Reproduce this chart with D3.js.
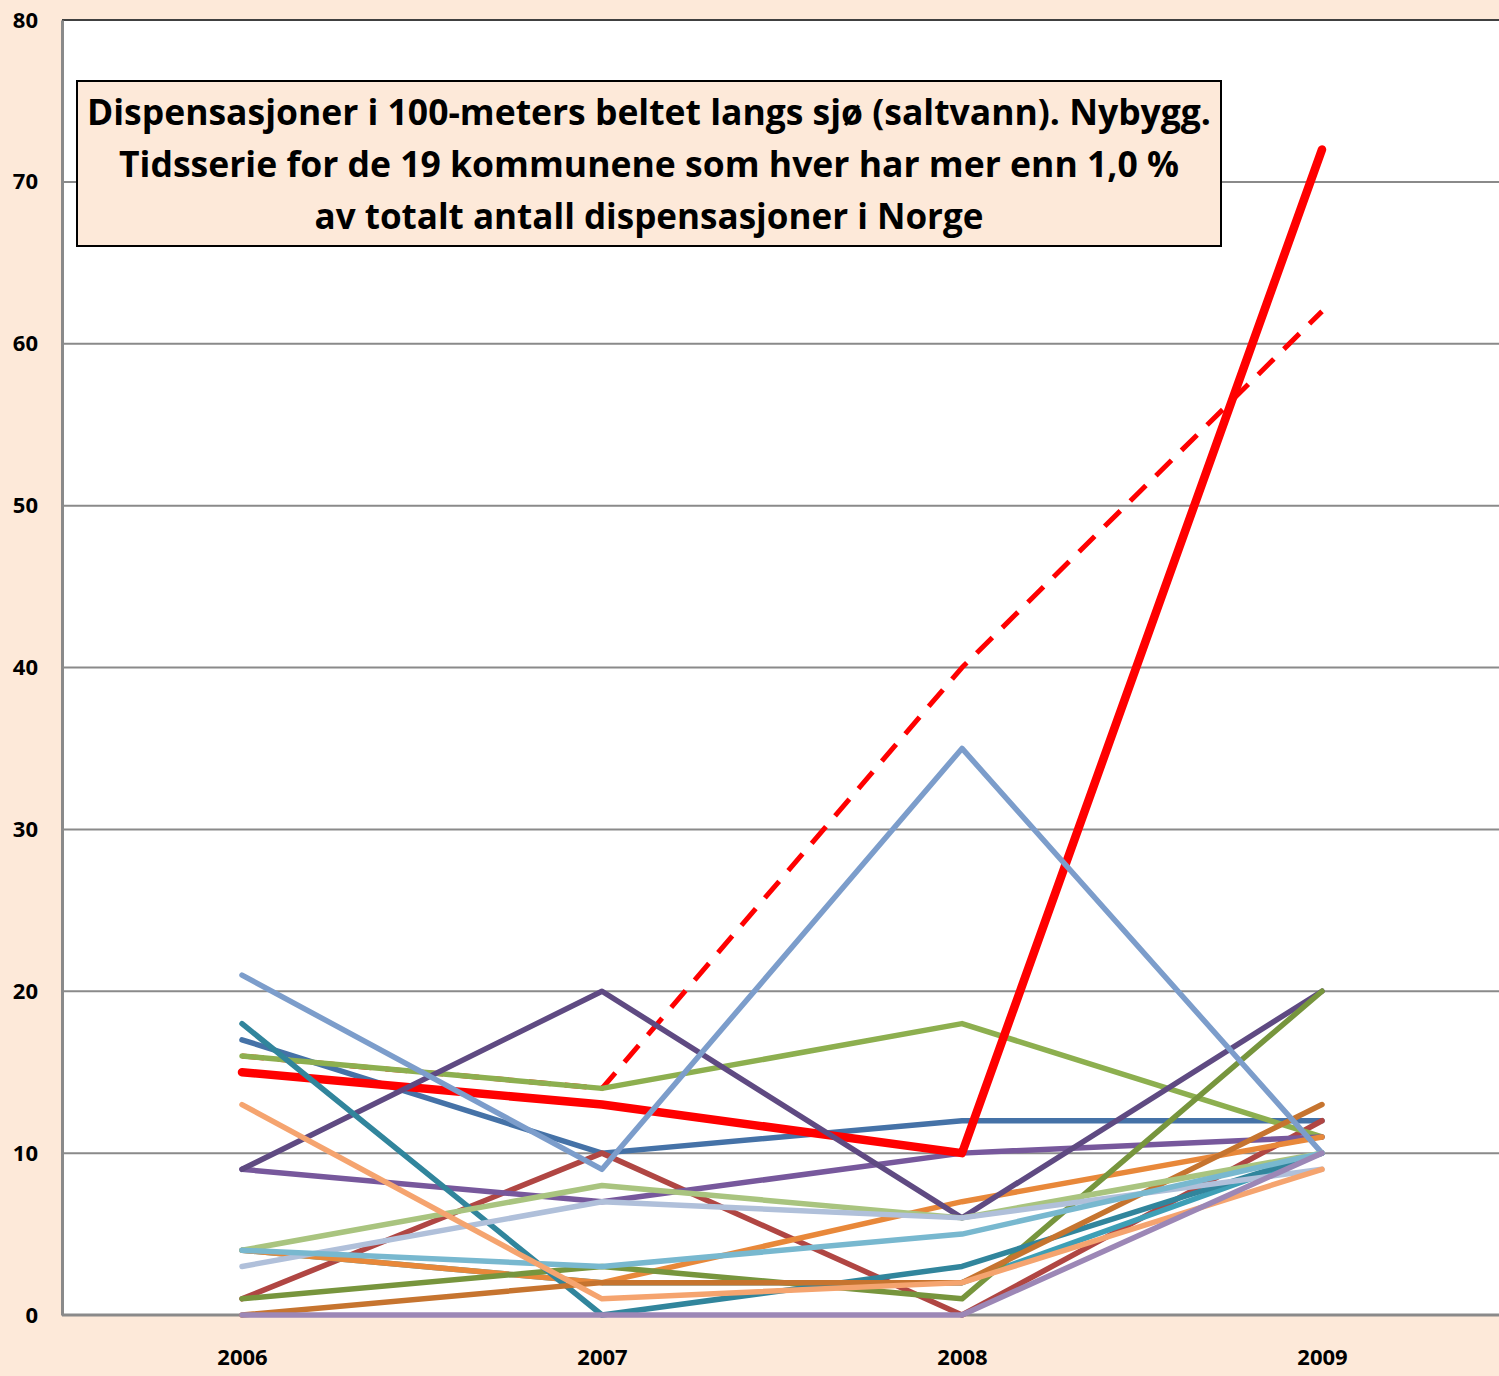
<!DOCTYPE html>
<html>
<head>
<meta charset="utf-8">
<script src="https://cdn.jsdelivr.net/npm/d3@7"></script>
<style>
  body { margin: 0; background: #fde9d9; }
  svg { display: block; }
  text { font-family: "Open Sans", sans-serif; font-weight: bold; }
</style>
</head>
<body>
<svg id="chart" width="1499" height="1376"></svg>
<script>
// categories and ticks
var years = ['2006', '2007', '2008', '2009'],
    yTicks = [0, 10, 20, 30, 40, 50, 60, 70, 80],
    titleLines = [
      'Dispensasjoner i 100-meters beltet langs sjø (saltvann). Nybygg.',
      'Tidsserie for de 19 kommunene som hver har mer enn 1,0 %',
      'av totalt antall dispensasjoner i Norge'
    ];

// series values, one per kommune
var sBlue       = [17, 10, 12, 12],
    sRedBrown   = [1, 10, 0, 12],
    sGreen      = [16, 14, 18, 11],
    sPurple     = [9, 7, 10, 11],
    sAqua       = [4, 2, 2, 10],
    sOrange     = [4, 2, 7, 11],
    sRed        = [15, 13, 10, 72],
    sDarkPurple = [9, 20, 6, 20],
    sDarkGreen  = [1, 3, 1, 20],
    sDarkTeal   = [18, 0, 3, 10],
    sDarkOrange = [0, 2, 2, 13],
    sLightBlue  = [21, 9, 35, 10],
    sLightGreen = [4, 8, 6, 10],
    sGreyBlue   = [3, 7, 6, 9],
    sLightTeal  = [4, 3, 5, 10],
    sLightOrange= [13, 1, 2, 9],
    sLightPurple= [0, 0, 0, 10],
    sTrend      = [16, 14, 40, 62];   // dashed red

var svg = d3.select('#chart'),
    plotLeft = 62, plotRight = 1502, plotTop = 20, plotBottom = 1315;

var x = d3.scalePoint().domain(years).range([plotLeft, plotRight]).padding(0.5),
    y = d3.scaleLinear().domain([0, 80]).range([plotBottom, plotTop]);

// plot area
svg.append('rect')
  .attr('x', plotLeft).attr('y', plotTop)
  .attr('width', 1499 - plotLeft).attr('height', plotBottom - plotTop)
  .attr('fill', '#fff');

// gridlines
svg.append('g').selectAll('line')
  .data(yTicks.filter(function(d){ return d > 0 }))
  .enter().append('line')
  .attr('x1', plotLeft).attr('x2', 1499)
  .attr('y1', function(d){ return y(d) }).attr('y2', function(d){ return y(d) })
  .attr('stroke', function(d){ return d === 80 ? '#404040' : '#8a8a8a' })
  .attr('stroke-width', 2);

// y axis
var yAxis = svg.append('g')
  .attr('transform', 'translate(' + plotLeft + ',0)')
  .call(d3.axisLeft(y).tickValues(yTicks).tickSize(0).tickPadding(24));
yAxis.select('.domain').attr('stroke', '#8a8a8a').attr('stroke-width', 3);
yAxis.selectAll('text').attr('font-size', 22).attr('fill', '#000')
  .attr('font-family', '"Open Sans", sans-serif').attr('font-weight', 'bold');

// x axis
var xAxis = svg.append('g')
  .attr('transform', 'translate(0,' + plotBottom + ')')
  .call(d3.axisBottom(x).tickSize(0).tickPadding(34));
xAxis.select('.domain').remove();
xAxis.selectAll('text').attr('font-size', 22).attr('fill', '#000')
  .attr('font-family', '"Open Sans", sans-serif').attr('font-weight', 'bold');
svg.append('line')
  .attr('x1', plotLeft).attr('x2', 1499).attr('y1', plotBottom).attr('y2', plotBottom)
  .attr('stroke', '#8a8a8a').attr('stroke-width', 3);

// series, bottom to top drawing order
var series = [
  {v: sTrend,       c: '#ff0000', w: 5, dash: '22,14'},
  {v: sBlue,        c: '#4572a7', w: 5.5},
  {v: sRedBrown,    c: '#b04643', w: 5.5},
  {v: sGreen,       c: '#8daf4f', w: 5.5},
  {v: sPurple,      c: '#77589c', w: 5.5},
  {v: sAqua,        c: '#3e9fb6', w: 5.5},
  {v: sOrange,      c: '#e8883a', w: 5.5},
  {v: sRed,         c: '#ff0000', w: 8.5},
  {v: sDarkPurple,  c: '#5f4a82', w: 5.5},
  {v: sDarkGreen,   c: '#77953d', w: 5.5},
  {v: sDarkTeal,    c: '#31859c', w: 5.5},
  {v: sDarkOrange,  c: '#c6742f', w: 5.5},
  {v: sLightBlue,   c: '#7c9dcb', w: 5.5},
  {v: sLightGreen,  c: '#a9c47f', w: 5.5},
  {v: sGreyBlue,    c: '#b0c0da', w: 5.5},
  {v: sLightTeal,   c: '#78b8cf', w: 5.5},
  {v: sLightOrange, c: '#f5a46f', w: 5.5},
  {v: sLightPurple, c: '#9c87b6', w: 5.5}
];

var line = d3.line()
  .x(function(d, i){ return x(years[i]) })
  .y(function(d){ return y(d) });

svg.append('g').selectAll('path')
  .data(series)
  .enter().append('path')
  .attr('d', function(d){ return line(d.v) })
  .attr('fill', 'none')
  .attr('stroke', function(d){ return d.c })
  .attr('stroke-width', function(d){ return d.w })
  .attr('stroke-dasharray', function(d){ return d.dash || null })
  .attr('stroke-linecap', function(d){ return d.dash ? 'butt' : 'round' })
  .attr('stroke-linejoin', 'round');

// title box
var tb = svg.append('g');
tb.append('rect')
  .attr('x', 77).attr('y', 81).attr('width', 1144).attr('height', 165)
  .attr('fill', '#fde9d9').attr('stroke', '#000').attr('stroke-width', 2);
var widths = [1124, 1060, 669];
tb.selectAll('text')
  .data(titleLines)
  .enter().append('text')
  .attr('x', 649)
  .attr('y', function(d, i){ return 125 + i * 52 })
  .attr('text-anchor', 'middle')
  .attr('font-size', 35)
  .attr('textLength', function(d, i){ return widths[i] })
  .attr('lengthAdjust', 'spacingAndGlyphs')
  .text(function(d){ return d });
</script>
</body>
</html>
